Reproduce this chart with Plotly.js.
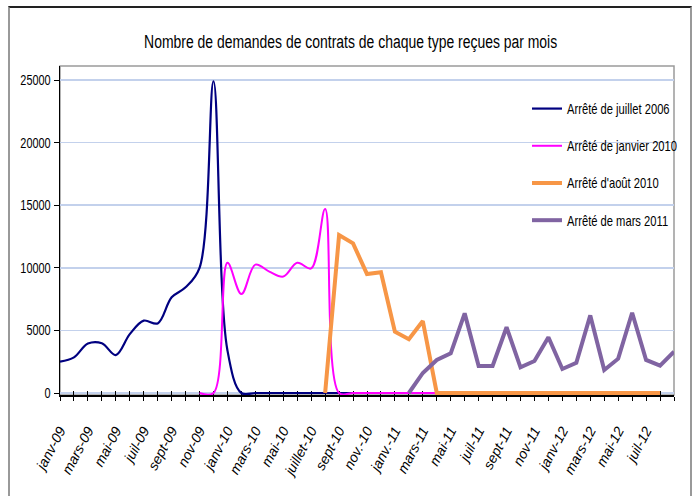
<!DOCTYPE html>
<html>
<head>
<meta charset="utf-8">
<script src="https://cdn.plot.ly/plotly-3.0.1.min.js"></script>
<style>
  html, body { margin: 0; padding: 0; background: #fff; }
  #wrap { position: relative; width: 693px; height: 496px; }
  #chart { position: absolute; left: 0; top: 0; width: 693px; height: 496px; }
  #frame { position: absolute; left: 8px; top: 6px; width: 680px; height: 520px;
           border-top: 2px solid #222; border-left: 2px solid #999; border-right: 2px solid #999;
           pointer-events: none; }
</style>
</head>
<body>
<div id="wrap">
  <div id="chart"></div>
  <div id="frame"></div>
</div>
<script>
// Months Jan 2009 .. Sep 2012 (category axis)
const months = [
  "2009-01","2009-02","2009-03","2009-04","2009-05","2009-06","2009-07","2009-08","2009-09","2009-10","2009-11","2009-12",
  "2010-01","2010-02","2010-03","2010-04","2010-05","2010-06","2010-07","2010-08","2010-09","2010-10","2010-11","2010-12",
  "2011-01","2011-02","2011-03","2011-04","2011-05","2011-06","2011-07","2011-08","2011-09","2011-10","2011-11","2011-12",
  "2012-01","2012-02","2012-03","2012-04","2012-05","2012-06","2012-07","2012-08","2012-09"
];

// Labels shown every two months
const tickLabels = ["janv-09","mars-09","mai-09","juil-09","sept-09","nov-09","janv-10","mars-10","mai-10",
  "juillet-10","sept-10","nov.-10","janv.-11","mars-11","mai-11","juil-11","sept-11","nov-11",
  "janv-12","mars-12","mai-12","juil-12"];

const seriesNames = ["Arrêté de juillet 2006","Arrêté de janvier 2010","Arrêté d'août 2010","Arrêté de mars 2011"];

const juillet2006 = [2500,2850,3950,3970,3030,4700,5780,5560,7640,8440,10000,24900,3400,0,0,0,0,0,0,0,0,0,
  null,null,null,null,null,null,null,null,null,null,null,null,null,null,null,null,null,null,null,null,null,null,null];

const janvier2010 = [null,null,null,null,null,null,null,null,null,null,
  0,0,10400,7900,10250,9700,9300,10400,9950,14700,0,0,0,0,0,0,0,0,
  null,null,null,null,null,null,null,null,null,null,null,null,null,null,null,null,null];

const aout2010 = [null,null,null,null,null,null,null,null,null,null,null,null,null,null,null,null,null,null,null,
  0,12620,11950,9500,9640,4900,4290,5750,0,0,0,0,0,0,0,0,0,0,0,0,0,0,0,0,0,null];

const mars2011 = [null,null,null,null,null,null,null,null,null,null,null,null,null,null,null,null,null,null,null,null,null,null,null,null,null,
  0,1600,2640,3170,6360,2160,2160,5250,2050,2560,4450,1920,2420,6200,1840,2740,6410,2640,2180,3300];

const yTicks = [0,5000,10000,15000,20000,25000];

const colors = ["#000080","#ff00ff","#f79646","#8064a2"];
const widths = [2.2, 2, 4, 4];
const shapes = ["spline","spline","linear","linear"];
const allSeries = [juillet2006, janvier2010, aout2010, mars2011];

const traces = allSeries.map((vals, k) => ({
  type: "scatter",
  mode: "lines",
  x: months,
  y: vals,
  name: seriesNames[k],
  legendgroup: "g" + k,
  connectgaps: false,
  line: { color: colors[k], width: widths[k], shape: shapes[k], smoothing: 1 },
  hoverinfo: "skip"
}));

const ticktext = months.map((m, i) => (i % 2 === 0 && tickLabels[i / 2]) ? tickLabels[i / 2] : "");

const sans = "Liberation Sans, Arial, sans-serif";

const layout = {
  width: 693, height: 496, autosize: false,
  margin: { l: 60, r: 19, t: 66, b: 101, pad: 0, autoexpand: false },
  paper_bgcolor: "#ffffff", plot_bgcolor: "#ffffff",
  title: {
    text: "Nombre de demandes de contrats de chaque type reçues par mois",
    font: { family: sans, size: 18, color: "#000" },
    x: 0.506, xref: "container", xanchor: "center",
    y: 0.915, yref: "container", yanchor: "middle"
  },
  showlegend: true,
  legend: {
    x: 0.7606, xanchor: "left", y: 0.918, yanchor: "top",
    bgcolor: "rgba(0,0,0,0)", borderwidth: 0,
    font: { family: sans, size: 14, color: "#000" },
    tracegroupgap: 16
  },
  xaxis: {
    type: "category",
    range: [0, 44],
    tickmode: "array", tickvals: months, ticktext: ticktext,
    tickangle: -62,
    ticks: "outside", ticklen: 4, tickwidth: 1, tickcolor: "#000",
    ticklabelstandoff: 16,
    tickfont: { family: sans, size: 14, color: "#000", style: "italic" },
    showline: true, linecolor: "#000", linewidth: 2,
    showgrid: false, zeroline: false, fixedrange: true,
    layer: "below traces"
  },
  xaxis2: {
    overlaying: "x", anchor: "y", side: "bottom",
    type: "linear", range: [0, 44], dtick: 1, tick0: 0,
    ticks: "inside", ticklen: 4, tickwidth: 1, tickcolor: "#000",
    showticklabels: false, showline: false, showgrid: false, zeroline: false,
    layer: "below traces"
  },
  yaxis: {
    range: [-160, 26120],
    tickmode: "array", tickvals: yTicks, ticktext: yTicks.map(String),
    ticks: "outside", ticklen: 5, tickwidth: 1, tickcolor: "#000",
    tickfont: { family: sans, size: 14, color: "#000" },
    showline: true, linecolor: "#000", linewidth: 1.5,
    showgrid: true, gridcolor: "#c3d1ec", gridwidth: 1.5,
    zeroline: false, fixedrange: true,
    layer: "below traces"
  },
  shapes: [{
    type: "rect", xref: "paper", yref: "paper", x0: 0, x1: 1, y0: 0, y1: 1,
    line: { color: "#9a9a9a", width: 1.5 }, layer: "below"
  }]
};

// invisible helper trace so the overlay axis (crossing tick marks) is drawn
traces.push({ type: "scatter", x: [0, 44], y: [null, null], xaxis: "x2", yaxis: "y", showlegend: false, hoverinfo: "skip", mode: "lines" });

// horizontal condensing of text (the reference uses a narrow typeface)
function squeeze(sel, s) {
  document.querySelectorAll(sel).forEach(t => {
    const x = parseFloat(t.getAttribute("x")) || 0;
    const ex = t.getAttribute("transform") || "";
    t.setAttribute("transform", (ex + " translate(" + x + ",0) scale(" + s + ",1) translate(" + (-x) + ",0)").trim());
  });
}

Plotly.newPlot("chart", traces, layout, { staticPlot: true, displayModeBar: false }).then(() => {
  squeeze("#chart .gtitle", 0.775);
  squeeze("#chart .legendtext", 0.80);
  squeeze("#chart .ytick text", 0.78);
});
</script>
</body>
</html>
